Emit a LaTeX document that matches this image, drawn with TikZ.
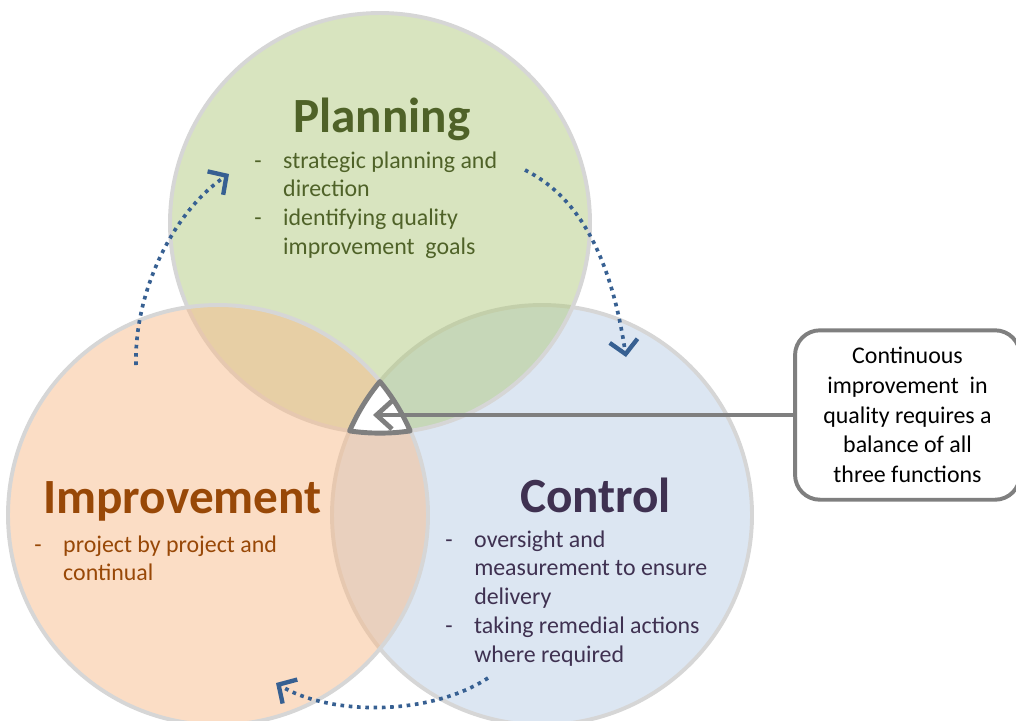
\documentclass[tikz,border=0pt]{standalone}
\usepackage{fontspec}
\setmainfont{Carlito}
\usetikzlibrary{arrows.meta}

% ring fills (drawn at half opacity so the overlaps mix)
\definecolor{planfill}{HTML}{B1C97F}
\definecolor{impfill}{HTML}{F7BB8B}
\definecolor{ctrlfill}{HTML}{B9CDE5}
\definecolor{ringgray}{HTML}{D6D6D6}
\definecolor{calloutgray}{HTML}{7F7F7F}
\definecolor{plantext}{HTML}{4F6228}
\definecolor{imptext}{HTML}{984807}
\definecolor{ctrltext}{HTML}{3F3151}
\definecolor{flowblue}{HTML}{376092}

\newcommand\itemdash{\makebox[20.6pt][l]{-}}

\begin{document}
\begin{tikzpicture}[x=0.25mm,y=-0.25mm,
  ring/.style={draw=ringgray, line width=2.8pt, fill opacity=0.5},
  title/.style={font=\fontsize{35}{42}\selectfont\bfseries, inner sep=0pt, anchor=base},
  bullets/.style={font=\fontsize{17}{20.6}\selectfont, inner sep=0pt, anchor=base west},
  flow/.style={draw=flowblue, line width=2.6pt, line cap=butt,
    dash pattern=on 2.6pt off 3.3pt,
    -{Straight Barb[length=9.5pt,width=20pt,line width=3.1pt]}},
  callout/.style={draw=calloutgray, line width=2.8pt, rounded corners=17.7pt,
    minimum width=160pt, minimum height=120.5pt, align=center, fill=white,
    font=\fontsize{17}{21.1}\selectfont, inner sep=0pt},
  pointer/.style={draw=calloutgray, line width=3.4pt,
    -{Straight Barb[length=11pt,width=20pt,line width=3.4pt]}}
]
\useasboundingbox (0,0) rectangle (1016,720);
\clip (0,0) rectangle (1016,720);

% centres of the three functions
\coordinate (pc) at (380,223);
\coordinate (ic) at (218,515);
\coordinate (cc) at (542,515);

% the three rings, bottom to top
\path[ring, fill=ctrlfill] (cc) circle[radius=210];
\path[ring, fill=planfill] (pc) circle[radius=210];
\path[ring, fill=impfill]  (ic) circle[radius=210];

% common region of all three rings
\coordinate (tv) at (380,381.4);
\draw[line width=3.5pt, draw=calloutgray, fill=white, line join=round]
  (tv) arc[start angle=219.5, end angle=203.6, radius=210]
       arc[start angle=98.3, end angle=81.7, radius=210]
       arc[start angle=-23.6, end angle=-39.5, radius=210] -- cycle;

% callout and its pointer
\node[callout] (note) at (907.5,415)
  {Continuous\\improvement~ in\\quality requires a\\balance of all\\three functions};
\coordinate (tip) at (373,415);
\draw[pointer] (note.west) -- (tip);

% cycle arrows between the functions
\coordinate (a1s) at (136,365);
\coordinate (a1e) at (229,174);
\draw[flow] (a1s) .. controls (134,290) and (175,210) .. (a1e);

\coordinate (a2s) at (525,170);
\coordinate (a2e) at (626,357);
\draw[flow] (a2s) .. controls (575,195) and (610,250) .. (a2e);

\coordinate (a3s) at (488,678);
\coordinate (a3e) at (276,683);
\draw[flow] (a3s) .. controls (430,716) and (330,716) .. (a3e);

% Planning
\node[title, text=plantext] (plantitle) at (382,132) {Planning};
\node[bullets, text=plantext] (planlist) at (254,168)
  {\begin{tabular}[t]{@{}l@{}l@{}}
   \itemdash & strategic planning and\\
             & direction\\
   \itemdash & identifying quality\\
             & improvement~ goals
   \end{tabular}};

% Improvement
\node[title, text=imptext] (imptitle) at (182.5,513) {Improvement};
\node[bullets, text=imptext] (implist) at (34,552)
  {\begin{tabular}[t]{@{}l@{}l@{}}
   \itemdash & project by project and\\
             & continual
   \end{tabular}};

% Control
\node[title, text=ctrltext] (ctrltitle) at (595.5,512) {Control};
\node[bullets, text=ctrltext] (ctrllist) at (445,547)
  {\begin{tabular}[t]{@{}l@{}l@{}}
   \itemdash & oversight and\\
             & measurement to ensure\\
             & delivery\\
   \itemdash & taking remedial actions\\
             & where required
   \end{tabular}};
\end{tikzpicture}
\end{document}
